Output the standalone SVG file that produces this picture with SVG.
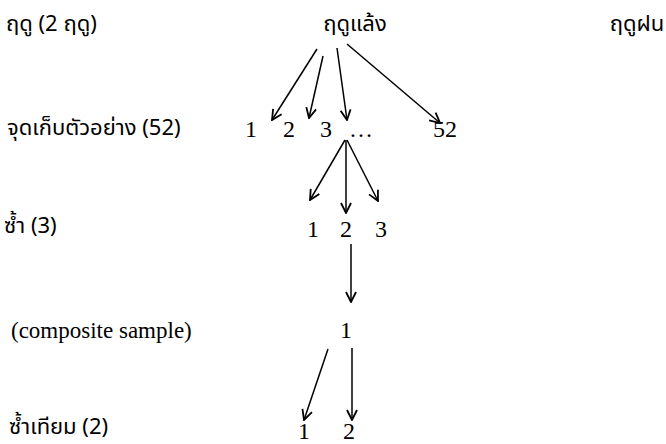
<svg xmlns="http://www.w3.org/2000/svg" width="666" height="444" viewBox="0 0 666 444">
<style>
.th{font-family:"Noto Sans Thai","Noto Sans","DejaVu Sans",sans-serif;font-size:22px;fill:#000}
.tm{font-family:"Liberation Serif","Times New Roman",serif;font-size:24px;fill:#000}
.tl{font-family:"Liberation Serif","Times New Roman",serif;font-size:23px;fill:#000}
.c{stroke:#000;stroke-width:1.5;fill:none;marker-end:url(#ah)}
</style>
<defs>
<marker id="ah" viewBox="0 0 12 12" refX="11" refY="6" markerWidth="12" markerHeight="12" markerUnits="userSpaceOnUse" orient="auto">
<path d="M1,1 L11,6 L1,11" fill="none" stroke="#000" stroke-width="1.8"/>
</marker>
</defs>
<rect width="666" height="444" fill="#fff"/>
<g id="labels">
<text class="th" x="6" y="31">ฤดู (2 ฤดู)</text>
<text class="th" x="7" y="135">จุดเก็บตัวอย่าง (52)</text>
<text class="th" x="4" y="233">ซ้ำ (3)</text>
<text class="tl" x="11" y="338">(composite sample)</text>
<text class="th" x="9" y="434">ซ้ำเทียม (2)</text>
</g>
<g id="season-dry"><text class="th" x="355" y="31" text-anchor="middle">ฤดูแล้ง</text></g>
<g id="season-wet"><text class="th" x="637" y="31" text-anchor="middle">ฤดูฝน</text></g>
<g id="site-1"><text class="tm" x="251" y="137" text-anchor="middle">1</text></g>
<g id="site-2"><text class="tm" x="289" y="137" text-anchor="middle">2</text></g>
<g id="site-3"><text class="tm" x="326" y="137" text-anchor="middle">3</text></g>
<g id="site-dots"><text class="tm" x="361" y="137" text-anchor="middle">…</text></g>
<g id="site-52"><text class="tm" x="445" y="137" text-anchor="middle">52</text></g>
<g id="rep-1"><text class="tm" x="313" y="237" text-anchor="middle">1</text></g>
<g id="rep-2"><text class="tm" x="346" y="237" text-anchor="middle">2</text></g>
<g id="rep-3"><text class="tm" x="381" y="237" text-anchor="middle">3</text></g>
<g id="composite-1"><text class="tm" x="346" y="338" text-anchor="middle">1</text></g>
<g id="pseudo-1"><text class="tm" x="304" y="439" text-anchor="middle">1</text></g>
<g id="pseudo-2"><text class="tm" x="349" y="439" text-anchor="middle">2</text></g>
<g id="connectors">
<line class="c" x1="317" y1="49" x2="272" y2="120"/>
<line class="c" x1="323" y1="56" x2="309" y2="118"/>
<line class="c" x1="337" y1="48" x2="347" y2="120"/>
<line class="c" x1="347" y1="44" x2="440" y2="123"/>
<line class="c" x1="345" y1="140" x2="310" y2="200"/>
<line class="c" x1="346" y1="140" x2="346" y2="213"/>
<line class="c" x1="347" y1="140" x2="378" y2="201"/>
<line class="c" x1="351" y1="244" x2="351" y2="302"/>
<line class="c" x1="328" y1="349" x2="304" y2="420"/>
<line class="c" x1="352" y1="348" x2="352" y2="420"/>
</g>
</svg>
